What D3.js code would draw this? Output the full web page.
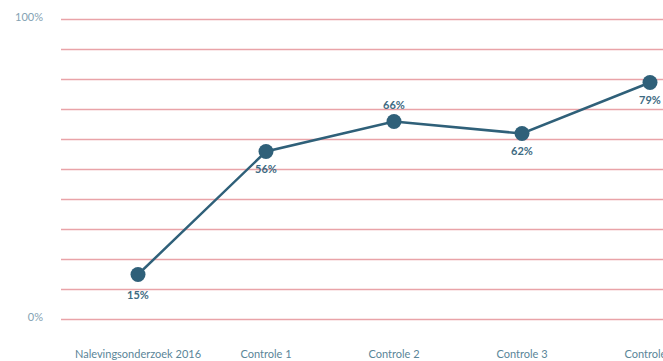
<!DOCTYPE html>
<html>
<head>
<meta charset="utf-8">
<script src="https://cdn.jsdelivr.net/npm/d3@7"></script>
<style>
body { margin: 0; background: #fff; }
svg { display: block; font-family: Lato, "Noto Sans", sans-serif; }
</style>
</head>
<body>
<svg></svg>
<script>
let categories = ["Nalevingsonderzoek 2016", "Controle 1", "Controle 2", "Controle 3", "Controle 4"]
let values = [15, 56, 66, 62, 79]
let labelSide = ["below", "below", "above", "below", "below"]
let yTicks = [0, 10, 20, 30, 40, 50, 60, 70, 80, 90, 100]
let yTickLabels = {0: "0%", 100: "100%"}

let width = 663
let height = 361

let svg = d3.select("svg").attr("width", width).attr("height", height)

let xScale = d3.scalePoint()
  .domain(categories)
  .range([138, 650])

let yScale = d3.scaleLinear()
  .domain([0, 100])
  .range([319.5, 19.5])

// gridlines
svg.append("g")
  .selectAll("line")
  .data(yTicks)
  .enter()
  .append("line")
  .attr("x1", 61)
  .attr("x2", width)
  .attr("y1", d => yScale(d))
  .attr("y2", d => yScale(d))
  .attr("stroke", "#e9a3a8")
  .attr("stroke-width", 1.6)

// y labels
svg.append("g")
  .selectAll("text")
  .data(yTicks.filter(d => yTickLabels[d]))
  .enter()
  .append("text")
  .attr("x", 43)
  .attr("y", d => yScale(d) + 1.5)
  .attr("text-anchor", "end")
  .attr("font-size", 11)
  .attr("fill", "#84a2b3")
  .text(d => yTickLabels[d])

// x labels
svg.append("g")
  .selectAll("text")
  .data(categories)
  .enter()
  .append("text")
  .attr("x", d => xScale(d))
  .attr("y", 358)
  .attr("text-anchor", "middle")
  .attr("font-size", 11)
  .attr("fill", "#5a8598")
  .text(d => d)

let line = d3.line()
  .x((d, i) => xScale(categories[i]))
  .y(d => yScale(d))

svg.append("path")
  .datum(values)
  .attr("d", line)
  .attr("fill", "none")
  .attr("stroke", "#2f6079")
  .attr("stroke-width", 2.5)

svg.append("g")
  .selectAll("circle")
  .data(values)
  .enter()
  .append("circle")
  .attr("cx", (d, i) => xScale(categories[i]))
  .attr("cy", d => yScale(d))
  .attr("r", 7.5)
  .attr("fill", "#2f6079")

svg.append("g")
  .selectAll("text")
  .data(values)
  .enter()
  .append("text")
  .attr("x", (d, i) => xScale(categories[i]))
  .attr("y", (d, i) => labelSide[i] == "above" ? yScale(d) - 13 : yScale(d) + (i == 0 ? 24 : 21))
  .attr("text-anchor", "middle")
  .attr("font-size", 11)
  .attr("font-weight", "bold")
  .attr("fill", "#3d6a82")
  .text(d => d + "%")
</script>
</body>
</html>
